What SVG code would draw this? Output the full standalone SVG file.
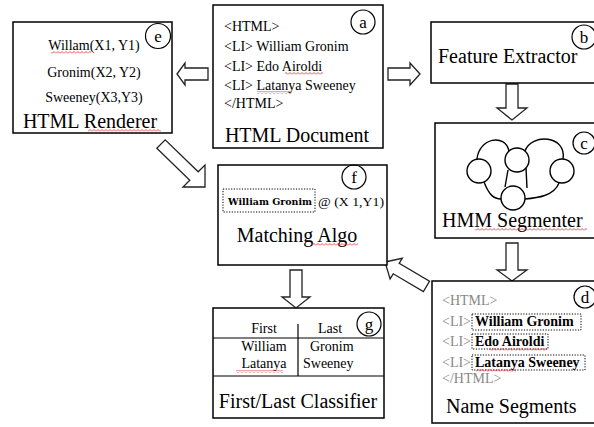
<svg xmlns="http://www.w3.org/2000/svg" width="594" height="427" viewBox="0 0 594 427">
<defs>
<style>
.box{fill:#fff;stroke:#000;stroke-width:1.5}
.arrow{fill:#fff;stroke:#222;stroke-width:1.3;stroke-linejoin:miter}
.tag{fill:none;stroke:#000;stroke-width:1.2}
.lbl{font-family:"Liberation Serif","Times New Roman",serif;fill:#000}
.big{font-size:20px}
.sm{font-size:14px}
.cl{font-size:17px;text-anchor:middle}
.gray{fill:#888}
.bold{font-weight:bold}
.dot{fill:none;stroke:#000;stroke-width:1;stroke-dasharray:1.2 1.5}
.hmm{fill:none;stroke:#000;stroke-width:1.4}
.sq{fill:url(#sq)}
</style>
<pattern id="sq" width="4" height="3" patternUnits="userSpaceOnUse">
<path d="M0,2.5 L2,0.5 L4,2.5" fill="none" stroke="#d22" stroke-width="0.8"/>
</pattern>
</defs>

<g id="connectors">
<polygon class="arrow" points="177,74 185,63 185,68 208,68 208,80 185,80 185,85"/>
<polygon class="arrow" points="420,74 410,63 410,68 388,68 388,80 410,80 410,85"/>
<polygon class="arrow" points="506,84 518,84 518,108 527,108 512,120 497,108 506,108"/>
<polygon class="arrow" points="506,243 518,243 518,270 527,270 512,281 497,270 506,270"/>
<polygon class="arrow" points="290,270 302,270 302,297 310,297 296,308 282,297 290,297"/>
<polygon class="arrow" points="205,187 183,187 189.8,180.2 156.8,148.2 165.2,139.8 198.2,171.8 205,165"/>
<polygon class="arrow" points="385,262 402.3,258.3 399.2,263.4 429.5,281.3 423.4,291.6 393.2,273.8 390.1,278.9"/>
</g>

<g id="node-e">
<rect class="box" x="13" y="22" width="159" height="111"/>
<circle class="tag" cx="158" cy="36" r="12.5"/>
<text class="lbl cl" x="158" y="42">e</text>
<text class="lbl sm" x="94" y="50" text-anchor="middle">Willam(X1, Y1)</text>
<text class="lbl sm" x="94" y="77" text-anchor="middle">Gronim(X2,  Y2)</text>
<text class="lbl sm" x="94" y="102" text-anchor="middle">Sweeney(X3,Y3)</text>
<text class="lbl big" x="90" y="128" text-anchor="middle">HTML Renderer</text>
<rect class="sq" x="51" y="51" width="40" height="3"/>
<rect class="sq" x="88" y="129" width="73" height="3"/>
</g>

<g id="node-a">
<rect class="box" x="213" y="5" width="170" height="143"/>
<circle class="tag" cx="363" cy="22" r="12"/>
<text class="lbl cl" x="363" y="28">a</text>
<text class="lbl sm" x="224" y="31">&lt;HTML&gt;</text>
<text class="lbl sm" x="224" y="51">&lt;LI&gt; William Gronim</text>
<text class="lbl sm" x="224" y="71">&lt;LI&gt; Edo Airoldi</text>
<text class="lbl sm" x="224" y="90">&lt;LI&gt; Latanya Sweeney</text>
<text class="lbl sm" x="224" y="108">&lt;/HTML&gt;</text>
<text class="lbl big" x="297" y="142" text-anchor="middle">HTML Document</text>
<rect class="sq" x="285" y="72" width="38" height="3"/>
<rect class="sq" x="257" y="91" width="35" height="3"/>
</g>

<g id="node-b">
<rect class="box" x="431" y="22" width="170" height="61"/>
<circle class="tag" cx="584" cy="37" r="12"/>
<text class="lbl cl" x="584" y="43">b</text>
<text class="lbl big" x="438" y="63">Feature Extractor</text>
</g>

<g id="node-c">
<rect class="box" x="435" y="123" width="166" height="115"/>
<circle class="tag" cx="584" cy="143" r="11"/>
<text class="lbl cl" x="584" y="149">c</text>
<circle class="hmm" cx="479" cy="171" r="12"/>
<circle class="hmm" cx="517" cy="160" r="12"/>
<circle class="hmm" cx="562" cy="171" r="12"/>
<circle class="hmm" cx="513" cy="198" r="12"/>
<path class="hmm" d="M477,159 C479,138 505,133 509,151"/>
<path class="hmm" d="M525,151 C531,133 567,135 563,159"/>
<path class="hmm" d="M484,182 C489,195 494,199 501,199"/>
<path class="hmm" d="M559,183 C554,196 537,198 525,199"/>
<path class="hmm" d="M508,170 L505,187 M526,168 L527,188"/>
<text class="lbl big" x="442" y="227">HMM Segmenter</text>
<rect class="sq" x="475" y="228" width="112" height="3"/>
</g>

<g id="node-d">
<rect class="box" x="432" y="281" width="169" height="142"/>
<circle class="tag" cx="585" cy="297" r="11"/>
<text class="lbl cl" x="585" y="303">d</text>
<text class="lbl sm gray" x="442" y="305">&lt;HTML&gt;</text>
<text class="lbl sm gray" x="442" y="326">&lt;LI&gt;</text>
<text class="lbl sm gray" x="442" y="346">&lt;LI&gt;</text>
<text class="lbl sm gray" x="442" y="367">&lt;LI&gt;</text>
<text class="lbl sm gray" x="442" y="383">&lt;/HTML&gt;</text>
<rect class="dot" x="472" y="314" width="109" height="16"/>
<rect class="dot" x="472" y="334" width="76" height="15"/>
<rect class="dot" x="472" y="355" width="113" height="15"/>
<text class="lbl sm bold" x="475" y="326">William Gronim</text>
<text class="lbl sm bold" x="475" y="346">Edo Airoldi</text>
<text class="lbl sm bold" x="475" y="367">Latanya Sweeney</text>
<text class="lbl big" x="446" y="413">Name Segments</text>
<rect class="sq" x="489" y="348" width="58" height="3"/>
<rect class="sq" x="476" y="369" width="40" height="3"/>
</g>

<g id="node-f">
<rect class="box" x="218" y="165" width="169" height="100"/>
<circle class="tag" cx="354" cy="177" r="12"/>
<text class="lbl cl" x="354" y="183">f</text>
<rect class="dot" x="223" y="189" width="92" height="23"/>
<text x="228" y="205" font-family="'DejaVu Serif',serif" font-weight="900" font-size="10" textLength="84" lengthAdjust="spacingAndGlyphs">William Gronim</text>
<text class="lbl" x="318" y="206" font-size="12.5" textLength="66" lengthAdjust="spacingAndGlyphs">@ (X 1,Y1)</text>
<text class="lbl big" x="297" y="242" text-anchor="middle">Matching Algo</text>
<rect class="sq" x="312" y="243" width="46" height="3"/>
</g>

<g id="node-g">
<rect class="box" x="213" y="308" width="171" height="110"/>
<line x1="213" y1="338" x2="384" y2="338" stroke="#000" stroke-width="1.2"/>
<line x1="213" y1="376" x2="384" y2="376" stroke="#000" stroke-width="1.2"/>
<line x1="298" y1="324" x2="298" y2="376" stroke="#000" stroke-width="1.2"/>
<circle class="tag" cx="369" cy="324" r="12"/>
<text class="lbl cl" x="369" y="330">g</text>
<text class="lbl sm" x="264" y="333" text-anchor="middle">First</text>
<text class="lbl sm" x="330" y="333" text-anchor="middle">Last</text>
<text class="lbl sm" x="264" y="351" text-anchor="middle">William</text>
<text class="lbl sm" x="264" y="368" text-anchor="middle">Latanya</text>
<text class="lbl sm" x="310" y="351">Gronim</text>
<text class="lbl sm" x="303" y="368">Sweeney</text>
<text class="lbl big" x="298" y="408" text-anchor="middle">First/Last Classifier</text>
<rect class="sq" x="236" y="370" width="47" height="3"/>
</g>
</svg>
